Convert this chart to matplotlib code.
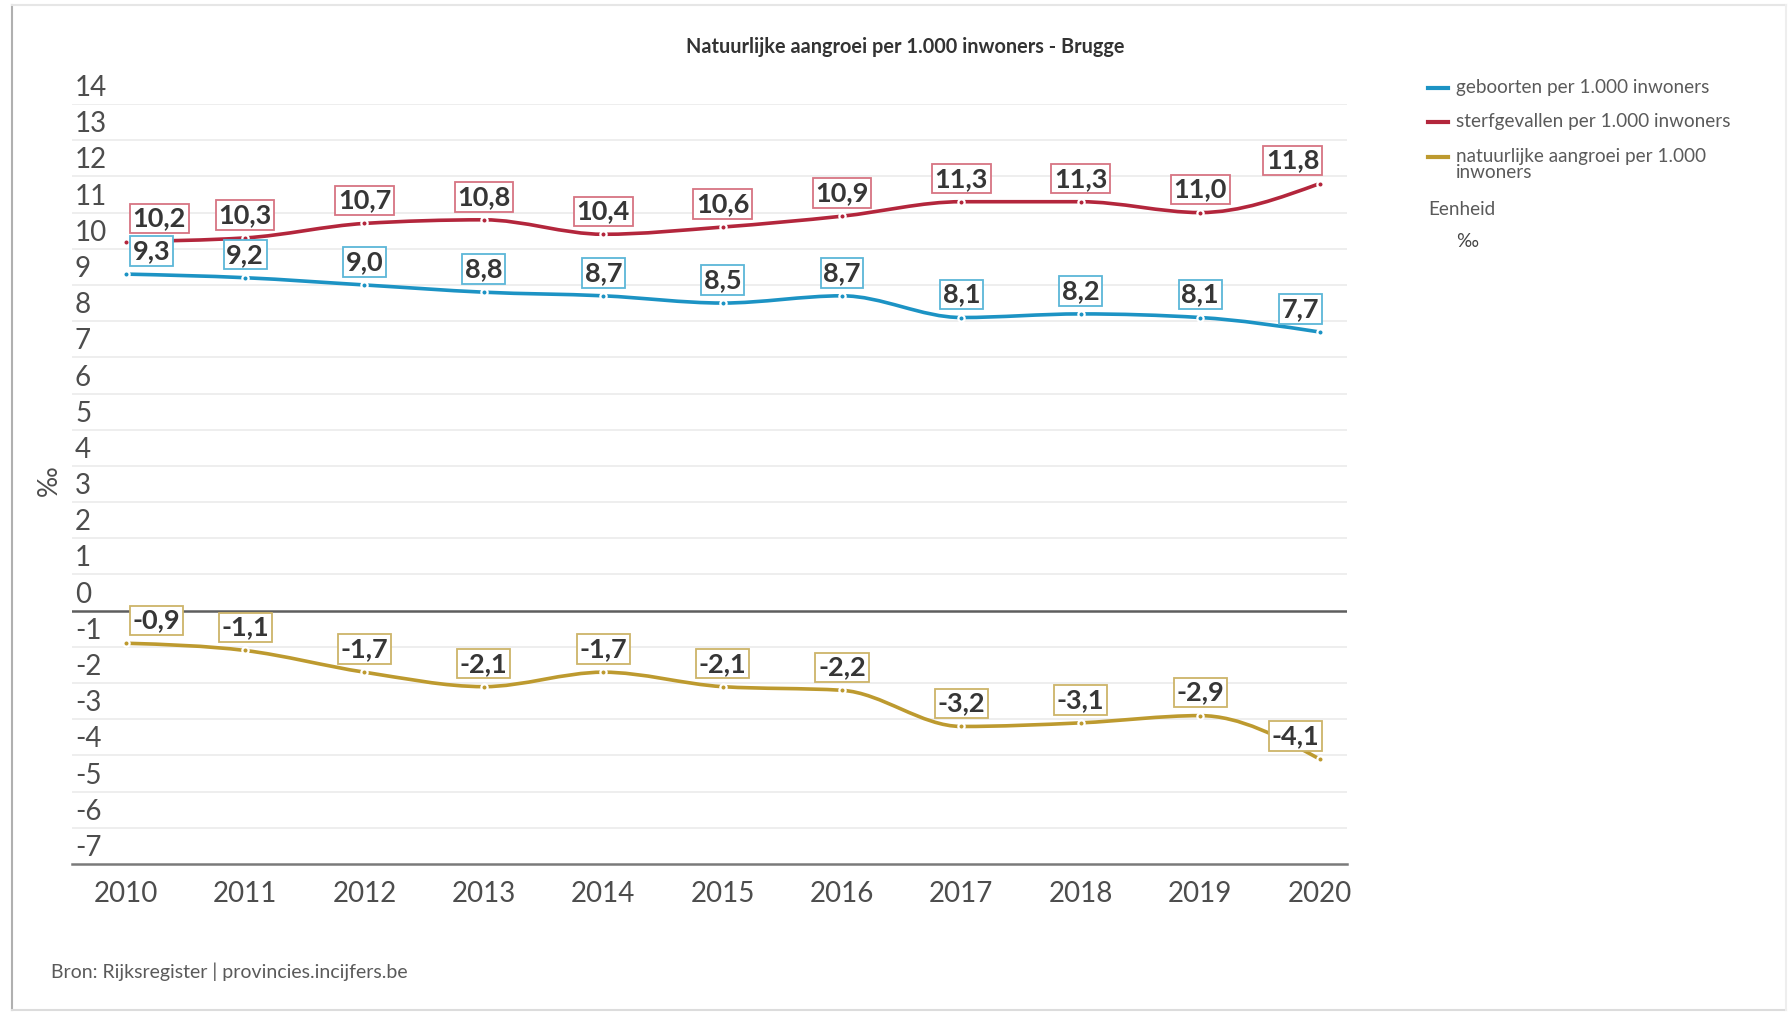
"""Natuurlijke aangroei per 1.000 inwoners - Brugge."""

import numpy as np
from matplotlib import pyplot as plt
from matplotlib.lines import Line2D
from matplotlib.patches import PathPatch
from matplotlib.path import Path

years = [2010, 2011, 2012, 2013, 2014, 2015, 2016, 2017, 2018, 2019, 2020]
geboorten = [9.3, 9.2, 9.0, 8.8, 8.7, 8.5, 8.7, 8.1, 8.2, 8.1, 7.7]
sterfgevallen = [10.2, 10.3, 10.7, 10.8, 10.4, 10.6, 10.9, 11.3, 11.3, 11.0, 11.8]
aangroei = [-0.9, -1.1, -1.7, -2.1, -1.7, -2.1, -2.2, -3.2, -3.1, -2.9, -4.1]
y_ticks = list(range(-7, 15))

series_labels = ['geboorten per 1.000 inwoners',
                 'sterfgevallen per 1.000 inwoners',
                 'natuurlijke aangroei per 1.000\ninwoners']
line_colors = ['#1c93c4', '#b3263c', '#bd9a2f']
box_colors = ['#5cb6d8', '#d77482', '#cdb469']

FONT = ['Lato', 'DejaVu Sans']
plt.rcParams['font.family'] = FONT


def monotone_path(x_vals, y_vals):
    """Monotone cubic (like d3 curveMonotoneX) as a bezier path."""
    x = np.asarray(x_vals, dtype=float)
    y = np.asarray(y_vals, dtype=float)
    h = np.diff(x)
    s = np.diff(y) / h
    t = np.zeros_like(y)
    for i in range(1, len(x) - 1):
        p = (s[i - 1] * h[i] + s[i] * h[i - 1]) / (h[i - 1] + h[i])
        t[i] = (np.sign(s[i - 1]) + np.sign(s[i])) * min(
            abs(s[i - 1]), abs(s[i]), 0.5 * abs(p))
    t[0] = (3 * s[0] - t[1]) / 2
    t[-1] = (3 * s[-1] - t[-2]) / 2
    verts = [(x[0], y[0])]
    codes = [Path.MOVETO]
    for i in range(len(x) - 1):
        d = h[i] / 3
        verts += [(x[i] + d, y[i] + d * t[i]),
                  (x[i + 1] - d, y[i + 1] - d * t[i + 1]),
                  (x[i + 1], y[i + 1])]
        codes += [Path.CURVE4] * 3
    return Path(verts, codes)


fig = plt.figure(figsize=(17.89, 10.13), dpi=100)
ax = fig.add_axes([72 / 1789, 1 - 864 / 1013, 1275 / 1789, 760 / 1013])
ax.set_xlim(2009.55, 2020.23)
ax.set_ylim(-7, 14)

# grid + y labels sitting above their lines
for v in y_ticks:
    if v == 0:
        ax.axhline(v, color='#5e5e5e', lw=1.8, zorder=1)
    elif v > -7:
        ax.axhline(v, color='#ebebeb', lw=1.2, zorder=0)
    ax.annotate(str(v), xy=(0, v), xycoords=('axes fraction', 'data'),
                xytext=(3, 16), textcoords='offset pixels',
                ha='left', va='center', fontsize=20, color='#4d4d4d')

for spine in ['top', 'right', 'left']:
    ax.spines[spine].set_visible(False)
ax.spines['bottom'].set_color('#7a7a7a')
ax.spines['bottom'].set_linewidth(1.8)
ax.set_yticks([])
ax.set_xticks(years)
ax.set_xticklabels([str(y) for y in years], fontsize=20, color='#4d4d4d')
ax.tick_params(axis='x', length=0, pad=12)

# series
all_series = [geboorten, sterfgevallen, aangroei]
for values, color, box_color in zip(all_series, line_colors, box_colors):
    ax.add_patch(PathPatch(monotone_path(years, values), fill=False,
                           edgecolor=color, lw=2.6, zorder=3,
                           capstyle='round'))
    ax.plot(years, values, ls='none', marker='o', ms=4.5, mfc=color,
            mec='white', mew=1.6, zorder=4)
    for i, (yr, val) in enumerate(zip(years, values)):
        if i == 0:
            ha, dx = 'left', 7
        elif i == len(years) - 1:
            ha, dx = 'right', 0
        else:
            ha, dx = 'center', 0
        ax.annotate(f'{val:.1f}'.replace('.', ','), xy=(yr, val),
                    xytext=(dx, 23), textcoords='offset pixels',
                    ha=ha, va='center', fontsize=19.5, fontweight='bold',
                    color='#363636', zorder=5,
                    bbox=dict(boxstyle='square,pad=0.1', fc='white',
                              ec=box_color, lw=1.3))

fig.text(49 / 1789, 1 - 481 / 1013, '‰', rotation=90, ha='center',
         va='center', fontsize=19, color='#4d4d4d')

fig.text(905 / 1789, 1 - 47 / 1013,
         'Natuurlijke aangroei per 1.000 inwoners - Brugge',
         ha='center', va='center', fontsize=14.3, fontweight='bold',
         color='#333333')

# legend
legend_y = [88, 122, 157]
for label, color, ly in zip(series_labels, line_colors, legend_y):
    fig.add_artist(Line2D([1428 / 1789, 1448 / 1789],
                          [1 - ly / 1013, 1 - ly / 1013],
                          transform=fig.transFigure, color=color, lw=3))
    fig.text(1456 / 1789, 1 - (ly - 9) / 1013, label, ha='left',
             va='top', fontsize=13.6, color='#5a5a5a', linespacing=0.95)
fig.text(1428 / 1789, 1 - 209 / 1013, 'Eenheid', ha='left', va='center',
         fontsize=13.6, color='#5a5a5a')
fig.text(1456 / 1789, 1 - 241 / 1013, '‰', ha='left', va='center',
         fontsize=13.6, color='#444444')

fig.text(51 / 1789, 1 - 972 / 1013,
         'Bron: Rijksregister | provincies.incijfers.be', ha='left',
         va='center', fontsize=14, color='#5a5a5a')

# screenshot frame
fig.add_artist(Line2D([12 / 1789, 12 / 1789], [1 - 1010 / 1013, 1 - 5 / 1013],
                      transform=fig.transFigure, color='#b0b0b0', lw=1.5))
fig.add_artist(Line2D([12 / 1789, 1786 / 1789], [1 - 5 / 1013, 1 - 5 / 1013],
                      transform=fig.transFigure, color='#e6e6e6', lw=1.5))
fig.add_artist(Line2D([12 / 1789, 1786 / 1789],
                      [1 - 1010 / 1013, 1 - 1010 / 1013],
                      transform=fig.transFigure, color='#dcdcdc', lw=1.5))
fig.add_artist(Line2D([1786 / 1789, 1786 / 1789],
                      [1 - 1010 / 1013, 1 - 5 / 1013],
                      transform=fig.transFigure, color='#eeeeee', lw=1.5))

fig.savefig('out.png', dpi=100)
